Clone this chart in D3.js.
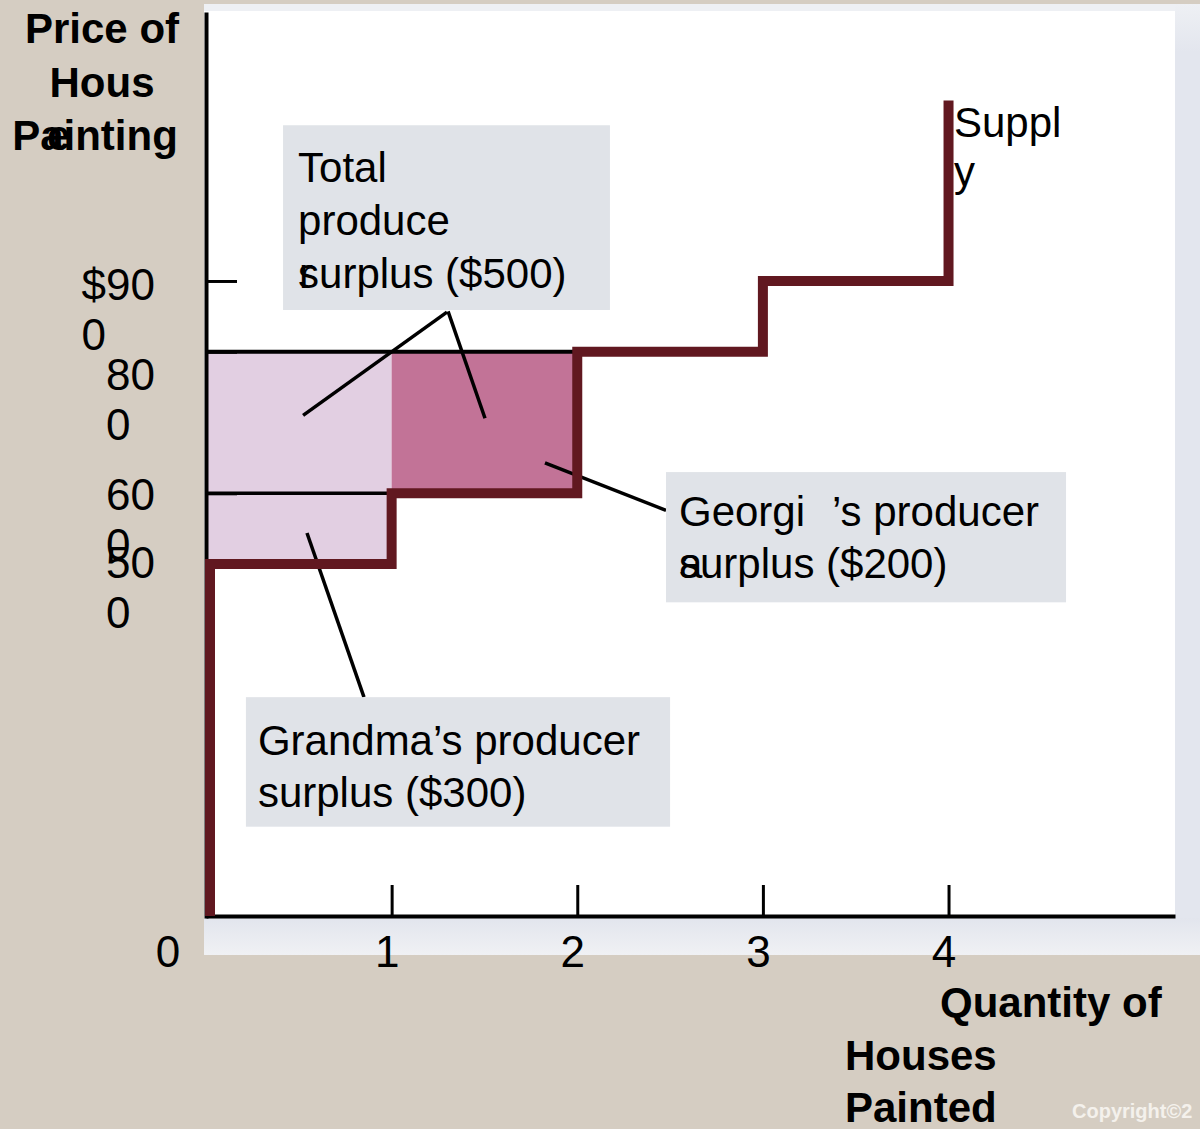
<!DOCTYPE html>
<html>
<head>
<meta charset="utf-8">
<script src="https://cdn.jsdelivr.net/npm/d3@7"></script>
<style>
body { margin: 0; background: #d5cdc2; }
svg { display: block; font-family: "Liberation Sans", Arial, sans-serif; }
</style>
</head>
<body>
<svg id="chart"></svg>
<script>
// supply schedule: each seller's cost, drawn as a step curve
const supplySteps = [
    {q: 0, p: 0}, {q: 0, p: 500}, {q: 1, p: 600},
    {q: 2, p: 800}, {q: 3, p: 900}, {q: 4, p: 1155}
];
const marketPrice = 800;
const surplusSellers = ['Grandma', 'Georgia'];
const surplusQ = [[0, 1], [1, 2]];
const surplusCost = [500, 600];

const xTickValues = [1, 2, 3, 4];
const yTickValues = [900, 800, 600, 500];
const yTickLines = [['$90', '0'], ['80', '0'], ['60', '0'], ['50', '0']];

// annotation boxes in data units (q, price)
const boxes = [
    {q0: 0.415, q1: 2.176, pTop: 1120, pBot: 859, lines: ['Total', 'produce', 'surplus ($500)'], pad: 15, first: 57, lh: 53},
    {q0: 2.478, q1: 4.633, pTop: 630, pBot: 446, lines: ['Georgi', 'surplus ($200)'], pad: 13, first: 54, lh: 52},
    {q0: 0.215, q1: 2.50, pTop: 312, pBot: 129, lines: ['Grandma\u2019s producer', 'surplus ($300)'], pad: 12, first: 58, lh: 52}
];
const leaders = [
    [{q: 1.298, p: 856}, {q: 0.523, p: 710}],
    [{q: 1.304, p: 857}, {q: 1.503, p: 706}],
    [{q: 1.826, p: 643}, {q: 2.478, p: 576}],
    [{q: 0.544, p: 544}, {q: 0.851, p: 312}]
];

const W = 1200, H = 1129;
const svg = d3.select('#chart').attr('width', W).attr('height', H);

const x = d3.scaleLinear().domain([0, 5.22]).range([206, 1175]);
const y = d3.scaleLinear().domain([0, 1280]).range([918, 12]);

// background panels
svg.append('rect').attr('width', W).attr('height', H).attr('fill', '#d5cdc2');
const defs = svg.append('defs');
const g1 = defs.append('linearGradient').attr('id', 'bottomGrad').attr('x1', 0).attr('y1', 0).attr('x2', 0).attr('y2', 1);
g1.append('stop').attr('offset', 0).attr('stop-color', '#e2e5ed');
g1.append('stop').attr('offset', 1).attr('stop-color', '#f0f1f4');
const g2 = defs.append('linearGradient').attr('id', 'rightGrad').attr('x1', 0).attr('y1', 0).attr('x2', 0).attr('y2', 1);
g2.append('stop').attr('offset', 0).attr('stop-color', '#eef0f4');
g2.append('stop').attr('offset', 0.05).attr('stop-color', '#e3e6ee');
g2.append('stop').attr('offset', 1).attr('stop-color', '#e3e6ee');

svg.append('rect').attr('x', 204).attr('y', 4).attr('width', 996).attr('height', 8).attr('fill', '#eef0f4');
svg.append('rect').attr('x', 1175).attr('y', 4).attr('width', 25).attr('height', 951).attr('fill', 'url(#rightGrad)');
svg.append('rect').attr('x', 204).attr('y', 918).attr('width', 996).attr('height', 37).attr('fill', 'url(#bottomGrad)');
svg.append('rect').attr('x', 204).attr('y', 11).attr('width', 971).attr('height', 907).attr('fill', '#ffffff');

// producer surplus areas
const surplusFill = ['#e2cfe2', '#c27397'];
svg.selectAll('rect.surplus')
    .data(surplusSellers)
    .join('rect')
    .attr('class', 'surplus')
    .attr('x', (d, i) => x(surplusQ[i][0]))
    .attr('width', (d, i) => x(surplusQ[i][1]) - x(surplusQ[i][0]))
    .attr('y', y(marketPrice))
    .attr('height', (d, i) => y(surplusCost[i]) - y(marketPrice))
    .attr('fill', (d, i) => surplusFill[i]);

// price lines
svg.append('line')
    .attr('x1', x(0)).attr('x2', x(2))
    .attr('y1', y(marketPrice)).attr('y2', y(marketPrice))
    .attr('stroke', '#000').attr('stroke-width', 4);
svg.append('line')
    .attr('x1', x(0)).attr('x2', x(1))
    .attr('y1', y(600)).attr('y2', y(600))
    .attr('stroke', '#000').attr('stroke-width', 3.5);

// axes
const xAxis = svg.append('g')
    .attr('transform', 'translate(0,916)')
    .call(d3.axisBottom(x).tickValues(xTickValues).tickFormat(d3.format('d')).tickSize(-31).tickSizeOuter(0));
xAxis.select('.domain').attr('stroke', '#000').attr('stroke-width', 4);
xAxis.selectAll('.tick line').attr('stroke', '#000').attr('stroke-width', 3);
xAxis.selectAll('.tick text')
    .attr('y', 51).attr('dy', 0).attr('dx', -5)
    .attr('fill', '#000')
    .style('font-size', '44px')
    .style('font-family', '"Liberation Sans", Arial, sans-serif');

const yAxis = svg.append('g')
    .attr('transform', 'translate(206,0)')
    .call(d3.axisLeft(y).tickValues(yTickValues).tickSize(-31).tickSizeOuter(0).tickFormat(''));
yAxis.select('.domain').attr('stroke', '#000').attr('stroke-width', 4);
yAxis.selectAll('.tick line').attr('stroke', '#000').attr('stroke-width', 3);

// y tick labels, wrapped like the original slide
const yLabelDy = {900: 19, 800: 38, 600: 17, 500: 14};
yTickValues.forEach((v, i) => {
    const base = y(v) + yLabelDy[v];
    const t1 = svg.append('text')
        .attr('x', 155).attr('y', base)
        .attr('text-anchor', 'end')
        .style('font-size', '44px')
        .text(yTickLines[i][0]);
    const w = t1.node().getComputedTextLength();
    svg.append('text')
        .attr('x', 155 - w).attr('y', base + 50)
        .style('font-size', '44px')
        .text(yTickLines[i][1]);
});
svg.append('text').attr('x', 168).attr('y', 967)
    .attr('text-anchor', 'middle').style('font-size', '44px').text('0');

// leader lines
svg.selectAll('line.leader')
    .data(leaders)
    .join('line')
    .attr('class', 'leader')
    .attr('x1', d => x(d[0].q)).attr('y1', d => y(d[0].p))
    .attr('x2', d => x(d[1].q)).attr('y2', d => y(d[1].p))
    .attr('stroke', '#000').attr('stroke-width', 3.5);

// supply curve
const supplyLine = d3.line()
    .x(d => x(d.q) + (d.q === 0 ? 4 : 0))
    .y(d => y(d.p) - (d.p === 0 ? 2 : 0))
    .curve(d3.curveStepAfter);
svg.append('path')
    .datum(supplySteps)
    .attr('d', supplyLine)
    .attr('fill', 'none')
    .attr('stroke', '#611820')
    .attr('stroke-width', 10)
    .attr('stroke-linejoin', 'miter');

svg.append('text').attr('x', 954).attr('y', 137).style('font-size', '42px').text('Suppl');
svg.append('text').attr('x', 954).attr('y', 186).style('font-size', '42px').text('y');

// annotation boxes
const boxPos = [];
boxes.forEach(b => {
    const bx = x(b.q0), by = y(b.pTop);
    svg.append('rect')
        .attr('x', bx).attr('y', by)
        .attr('width', x(b.q1) - bx).attr('height', y(b.pBot) - by)
        .attr('fill', '#e0e3e8');
    b.lines.forEach((line, i) => {
        svg.append('text')
            .attr('x', bx + b.pad).attr('y', by + b.first + i * b.lh)
            .style('font-size', '42px')
            .text(line);
    });
    boxPos.push({x: bx + b.pad, y: by + b.first, lh: b.lh});
});
// leftovers from the original text wrapping
svg.append('text').attr('x', boxPos[0].x + 1).attr('y', boxPos[0].y + 2 * boxPos[0].lh)
    .style('font-size', '42px').text('r');
svg.append('text').attr('x', boxPos[1].x + 153).attr('y', boxPos[1].y)
    .style('font-size', '42px').text('\u2019s producer');
svg.append('text').attr('x', boxPos[1].x).attr('y', boxPos[1].y + boxPos[1].lh)
    .style('font-size', '42px').text('a');

// axis titles
const yTitle = [['Price of', 102, 43], ['Hous', 102, 97], ['Painting', 95, 150]];
yTitle.forEach(t => {
    svg.append('text').attr('x', t[1]).attr('y', t[2])
        .attr('text-anchor', 'middle')
        .style('font-size', '42px').style('font-weight', 'bold')
        .text(t[0]);
});
svg.append('text').attr('x', 47).attr('y', 150)
    .style('font-size', '42px').style('font-weight', 'bold').text('e');

const xTitle = [['Quantity of', 940, 1017], ['Houses', 845, 1070], ['Painted', 845, 1122]];
xTitle.forEach(t => {
    svg.append('text').attr('x', t[1]).attr('y', t[2])
        .style('font-size', '42px').style('font-weight', 'bold')
        .text(t[0]);
});

svg.append('text').attr('x', 1072).attr('y', 1118)
    .style('font-size', '20px').style('font-weight', 'bold')
    .attr('fill', '#f4f1ec')
    .text('Copyright\u00a92');
</script>
</body>
</html>
